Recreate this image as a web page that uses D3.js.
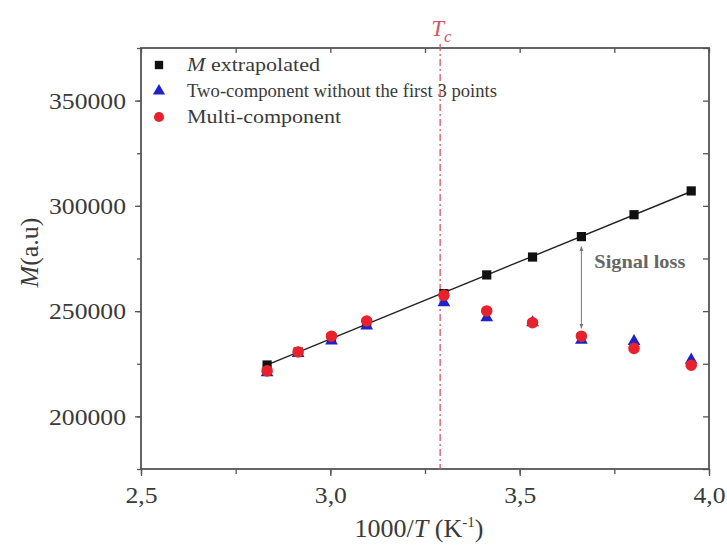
<!DOCTYPE html>
<html><head><meta charset="utf-8">
<script src="https://cdn.jsdelivr.net/npm/d3@7"></script>
<style>body{margin:0;background:#fff}svg{display:block}</style>
</head><body><svg id="c" width="727" height="550"></svg>
<script>
// ---- data ----
const xInv = [2.833, 2.915, 3.003, 3.096, 3.300, 3.413, 3.534, 3.663, 3.802, 3.953];
const mExtrapolated = [224400, 230600, 237200, 244200, 258300, 267200, 275700, 285400, 295800, 307100];
const twoComponent = [220800, 230000, 235900, 243000, 254000, 246900, 244500, 236200, 235700, 226800];
const multiComponent = [221600, 230600, 238100, 245300, 257500, 250100, 244500, 238100, 232300, 224300];
const xTicks = [2.5, 3.0, 3.5, 4.0];
const xTickLabels = ["2,5", "3,0", "3,5", "4,0"];
const yTicks = [200000, 250000, 300000, 350000];
const yTickLabels = ["200000", "250000", "300000", "350000"];
const legendLabels = ["extrapolated", "Two-component without the first 3 points", "Multi-component"];
const tcValue = 3.29;
const signalLossIndex = 7;

const svg = d3.select("#c");
const L = 141, R = 709, T = 48, B = 469;
const x = d3.scaleLinear().domain([2.5, 4.0]).range([L, R]);
const y = d3.scaleLinear().domain([175000, 375000]).range([B, T]);
const axisCol = "#555";
const textCol = "#3a3a3a";
const serif = "'Liberation Serif','Times New Roman',serif";

const xMinor = d3.range(2.5, 4.0001, 0.25);
const yMinor = d3.range(175000, 375001, 25000);

const gB = svg.append("g").attr("transform", `translate(0,${B})`)
  .call(d3.axisBottom(x).tickValues(xMinor).tickSize(5).tickFormat(""));
const gB2 = svg.append("g").attr("transform", `translate(0,${B})`)
  .call(d3.axisBottom(x).tickValues(xTicks).tickSize(7).tickPadding(11)
    .tickFormat((d, i) => xTickLabels[i]));
const gT = svg.append("g").attr("transform", `translate(0,${T})`)
  .call(d3.axisBottom(x).tickValues(xMinor).tickSize(5).tickFormat(""));
const gL = svg.append("g").attr("transform", `translate(${L},0)`)
  .call(d3.axisLeft(y).tickValues(yMinor).tickSize(4).tickFormat(""));
const gL2 = svg.append("g").attr("transform", `translate(${L},0)`)
  .call(d3.axisLeft(y).tickValues(yTicks).tickSize(6).tickPadding(9)
    .tickFormat((d, i) => yTickLabels[i]));
const gR = svg.append("g").attr("transform", `translate(${R},0)`)
  .call(d3.axisLeft(y).tickValues(yMinor).tickSize(6).tickFormat(""));

[gB, gB2, gT, gL, gL2, gR].forEach(g => {
  g.select(".domain").remove();
  g.selectAll("line").attr("stroke", axisCol).attr("stroke-width", 1.3);
  g.selectAll("text").attr("fill", textCol).attr("font-family", serif).attr("font-size", 23);
});
gL2.selectAll("text").attr("dy", "0.34em").attr("textLength", 77).attr("lengthAdjust", "spacingAndGlyphs");
gB2.selectAll("text").attr("textLength", 32).attr("lengthAdjust", "spacingAndGlyphs");

svg.append("rect").attr("x", L).attr("y", T).attr("width", R - L).attr("height", B - T)
  .attr("fill", "none").attr("stroke", axisCol).attr("stroke-width", 1.8);

// Tc line
svg.append("line").attr("x1", x(tcValue)).attr("x2", x(tcValue)).attr("y1", T - 4).attr("y2", B)
  .attr("stroke", "#d9526a").attr("stroke-width", 1.3).attr("stroke-dasharray", "7,3,2,3");
const tc = svg.append("text").attr("x", x(tcValue) - 9).attr("y", 36)
  .attr("font-family", serif).attr("font-size", 23).attr("font-style", "italic").attr("fill", "#d9526a");
tc.append("tspan").text("T");
tc.append("tspan").attr("font-size", 17).attr("dy", 6).text("c");

// fit line (least squares on extrapolated series)
const n = xInv.length;
const mx = d3.mean(xInv), my = d3.mean(mExtrapolated);
const slope = d3.sum(xInv.map((v, i) => (v - mx) * (mExtrapolated[i] - my))) / d3.sum(xInv.map(v => (v - mx) ** 2));
const icpt = my - slope * mx;
const x0 = xInv[0], x1 = xInv[n - 1];
svg.append("line").attr("x1", x(x0)).attr("y1", y(icpt + slope * x0))
  .attr("x2", x(x1)).attr("y2", y(icpt + slope * x1))
  .attr("stroke", "#222").attr("stroke-width", 1.4);

// signal loss arrow
const ax = x(xInv[signalLossIndex]);
const defs = svg.append("defs");
defs.append("marker").attr("id", "ah").attr("viewBox", "0 0 10 10").attr("refX", 9).attr("refY", 5)
  .attr("markerWidth", 5).attr("markerHeight", 5).attr("orient", "auto-start-reverse")
  .append("path").attr("d", "M0,1 L10,5 L0,9 Z").attr("fill", "#777");
svg.append("line").attr("x1", ax).attr("x2", ax)
  .attr("y1", y(mExtrapolated[signalLossIndex]) + 10).attr("y2", y(multiComponent[signalLossIndex]) - 8)
  .attr("stroke", "#777").attr("stroke-width", 1)
  .attr("marker-start", "url(#ah)").attr("marker-end", "url(#ah)");
svg.append("text").attr("x", ax + 13).attr("y", y(270300))
  .attr("font-family", serif).attr("font-size", 19).attr("font-weight", "bold").attr("fill", "#666")
  .attr("textLength", 91).attr("lengthAdjust", "spacingAndGlyphs").text("Signal loss");

// markers
const sq = d3.symbol().type(d3.symbolSquare).size(85);
const tri = d3.symbol().type(d3.symbolTriangle).size(70);
const cir = d3.symbol().type(d3.symbolCircle).size(105);
svg.append("g").selectAll("path").data(xInv).join("path")
  .attr("d", sq).attr("transform", (d, i) => `translate(${x(d)},${y(mExtrapolated[i])})`).attr("fill", "#111");
svg.append("g").selectAll("path").data(xInv).join("path")
  .attr("d", tri).attr("transform", (d, i) => `translate(${x(d)},${y(twoComponent[i])})`).attr("fill", "#1f22c8");
svg.append("g").selectAll("path").data(xInv).join("path")
  .attr("d", cir).attr("transform", (d, i) => `translate(${x(d)},${y(multiComponent[i])})`).attr("fill", "#e8222d");

// legend
const lg = svg.append("g");
const ly = [65, 91, 117];
lg.append("path").attr("d", d3.symbol().type(d3.symbolSquare).size(70)).attr("transform", `translate(159,${ly[0]})`).attr("fill", "#111");
lg.append("path").attr("d", d3.symbol().type(d3.symbolTriangle).size(65)).attr("transform", `translate(159,${ly[1]})`).attr("fill", "#1f22c8");
lg.append("path").attr("d", d3.symbol().type(d3.symbolCircle).size(80)).attr("transform", `translate(159,${ly[2]})`).attr("fill", "#e8222d");
const legLen = [133, 310, 154];
legendLabels.forEach((t, i) => {
  const tx = lg.append("text").attr("x", 187).attr("y", ly[i] + 6)
    .attr("font-family", serif).attr("font-size", 18.5).attr("fill", textCol)
    .attr("textLength", legLen[i]).attr("lengthAdjust", "spacingAndGlyphs");
  if (i === 0) { tx.append("tspan").attr("font-style", "italic").text("M"); tx.append("tspan").text(" " + t); }
  else tx.text(t);
});

// axis titles
const yt = svg.append("text").attr("transform", `translate(38,${(T + B) / 2 - 6}) rotate(-90)`)
  .attr("text-anchor", "middle").attr("font-family", serif).attr("font-size", 26).attr("fill", textCol);
yt.append("tspan").attr("font-style", "italic").text("M");
yt.append("tspan").text("(a.u)");
const xt = svg.append("text").attr("x", (L + R) / 2 - 6).attr("y", 537)
  .attr("text-anchor", "middle").attr("font-family", serif).attr("font-size", 26).attr("fill", textCol);
xt.append("tspan").text("1000/");
xt.append("tspan").attr("font-style", "italic").text("T");
xt.append("tspan").text(" (K");
xt.append("tspan").attr("font-size", 15).attr("dy", -10).text("-1");
xt.append("tspan").attr("dy", 10).text(")");
</script></body></html>
